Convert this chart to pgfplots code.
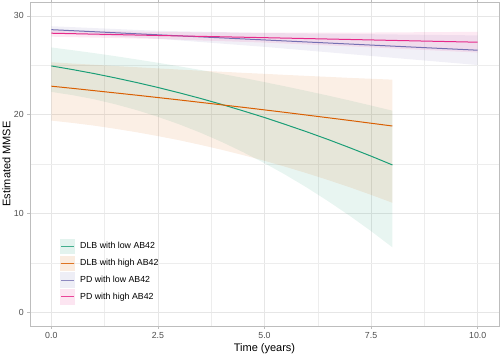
\documentclass[border=0pt]{standalone}
\usepackage{pgfplots}
\pgfplotsset{compat=1.18}
\usepackage{pgfplotstable}
\usepgfplotslibrary{fillbetween}
\usepackage{fontspec}
\setmainfont{Liberation Sans}
\definecolor{dlbl}{HTML}{1B9E77}
\definecolor{dlbh}{HTML}{D95F02}
\definecolor{pdl}{HTML}{7570B3}
\definecolor{pdh}{HTML}{E7298A}
\definecolor{gridc}{HTML}{E6E6E6}
\definecolor{borderc}{HTML}{BDBDBD}
\definecolor{tickc}{HTML}{4D4D4D}

\pgfplotstableread{
t lo mid hi
0 22.30 24.93 26.80
0.5 21.97 24.56 26.52
1 21.56 24.16 26.23
1.5 21.05 23.72 25.92
2 20.46 23.25 25.59
2.5 19.78 22.75 25.25
3 19.02 22.21 24.89
3.5 18.17 21.64 24.52
4 17.23 21.03 24.12
4.5 16.20 20.38 23.72
5 15.09 19.71 23.29
5.5 13.89 18.99 22.85
6 12.60 18.25 22.39
6.5 11.22 17.47 21.92
7 9.76 16.65 21.43
7.5 8.21 15.80 20.92
8 6.57 14.91 20.40
}\dlblow

\pgfplotstableread{
t lo mid hi
0 19.40 22.88 25.30
0.5 19.16 22.66 25.17
1 18.89 22.43 25.05
1.5 18.57 22.20 24.92
2 18.22 21.97 24.80
2.5 17.83 21.73 24.68
3 17.41 21.49 24.56
3.5 16.94 21.24 24.45
4 16.44 20.99 24.34
4.5 15.90 20.74 24.23
5 15.33 20.48 24.13
5.5 14.71 20.22 24.02
6 14.06 19.95 23.92
6.5 13.37 19.68 23.82
7 12.65 19.41 23.72
7.5 11.88 19.13 23.63
8 11.08 18.85 23.54
}\dlbhigh

\pgfplotstableread{
t lo mid hi
0 28.25 28.60 28.95
2.5 27.68 28.08 28.48
5 26.86 27.56 28.26
7.5 25.94 27.04 28.14
10 25.02 26.52 28.02
}\pdlow

\pgfplotstableread{
t lo mid hi
0 27.89 28.24 28.59
2.5 27.66 28.01 28.36
5 27.29 27.79 28.29
7.5 26.81 27.56 28.31
10 26.28 27.33 28.38
}\pdhigh

\begin{document}
\begin{tikzpicture}
\begin{axis}[
  at={(30pt,29pt)}, anchor=south west,
  scale only axis, width=469pt, height=324pt,
  xmin=-0.5, xmax=10.5, ymin=-1.39, ymax=31.4,
  xtick={0,2.5,5,7.5,10}, xticklabels={0.0,2.5,5.0,7.5,10.0},
  ytick={0,10,20,30},
  minor xtick={1.25,3.75,6.25,8.75}, minor ytick={5,15,25},
  grid=both,
  major grid style={color=gridc, line width=0.5pt},
  minor grid style={color=gridc!70, line width=0.3pt},
  axis line style={color=borderc, line width=0.6pt},
  tick align=outside, major tick length=2.75pt, minor tick length=0pt,
  tick style={color=borderc, line width=0.5pt},
  ticklabel style={font=\fontsize{8.8}{10}\selectfont, text=tickc},
  /pgf/number format/assume math mode=true,
  xlabel={Time (years)}, ylabel={Estimated MMSE},
  label style={font=\fontsize{11}{13}\selectfont},
  xlabel style={at={([yshift=-25.7pt]axis description cs:0.5,0)}, anchor=base},
  ylabel style={at={([xshift=-16pt]axis description cs:0,0.5)}, anchor=south},
  legend style={at={(axis description cs:0.064,0.270)}, anchor=north west,
    draw=none, fill=none, font=\fontsize{8.8}{10}\selectfont,
    row sep=1.2pt, inner sep=0pt, cells={anchor=west},
    /tikz/every odd column/.append style={column sep=3pt}},
]
% ribbons
\addplot[name path=gU, draw=none, forget plot] table[x=t,y=hi]{\dlblow};
\addplot[name path=gL, draw=none, forget plot] table[x=t,y=lo]{\dlblow};
\addplot[fill=dlbl, fill opacity=0.1, forget plot] fill between[of=gU and gL];
\addplot[name path=oU, draw=none, forget plot] table[x=t,y=hi]{\dlbhigh};
\addplot[name path=oL, draw=none, forget plot] table[x=t,y=lo]{\dlbhigh};
\addplot[fill=dlbh, fill opacity=0.1, forget plot] fill between[of=oU and oL];
\addplot[name path=pU, draw=none, forget plot] table[x=t,y=hi]{\pdlow};
\addplot[name path=pL, draw=none, forget plot] table[x=t,y=lo]{\pdlow};
\addplot[fill=pdl, fill opacity=0.1, forget plot] fill between[of=pU and pL];
\addplot[name path=kU, draw=none, forget plot] table[x=t,y=hi]{\pdhigh};
\addplot[name path=kL, draw=none, forget plot] table[x=t,y=lo]{\pdhigh};
\addplot[fill=pdh, fill opacity=0.1, forget plot] fill between[of=kU and kL];
% lines
\addplot[dlbl, line width=1pt, forget plot] table[x=t,y=mid]{\dlblow};
\addplot[dlbh, line width=1pt, forget plot] table[x=t,y=mid]{\dlbhigh};
\addplot[pdl, line width=1pt, forget plot] table[x=t,y=mid]{\pdlow};
\addplot[pdh, line width=1pt, forget plot] table[x=t,y=mid]{\pdhigh};
% legend
\addlegendimage{legend image code/.code={\path[draw=dlbl!80, line width=1pt] (0.8pt,0pt) -- (14.2pt,0pt); \path[draw=none, fill=dlbl, fill opacity=0.12] (0pt,-7.8pt) rectangle (15pt,7.8pt);}}
\addlegendentry{DLB with low AB42}
\addlegendimage{legend image code/.code={\path[draw=dlbh!85, line width=1pt] (0.8pt,0pt) -- (14.2pt,0pt); \path[draw=none, fill=dlbh, fill opacity=0.12] (0pt,-7.8pt) rectangle (15pt,7.8pt);}}
\addlegendentry{DLB with high AB42}
\addlegendimage{legend image code/.code={\path[draw=pdl!80, line width=1pt] (0.8pt,0pt) -- (14.2pt,0pt); \path[draw=none, fill=pdl, fill opacity=0.12] (0pt,-7.8pt) rectangle (15pt,7.8pt);}}
\addlegendentry{PD with low AB42}
\addlegendimage{legend image code/.code={\path[draw=pdh!85, line width=1pt] (0.8pt,0pt) -- (14.2pt,0pt); \path[draw=none, fill=pdh, fill opacity=0.12] (0pt,-7.8pt) rectangle (15pt,7.8pt);}}
\addlegendentry{PD with high AB42}
\end{axis}
\pgfresetboundingbox
\useasboundingbox (0,0) rectangle (500pt,355pt);
\end{tikzpicture}
\end{document}
